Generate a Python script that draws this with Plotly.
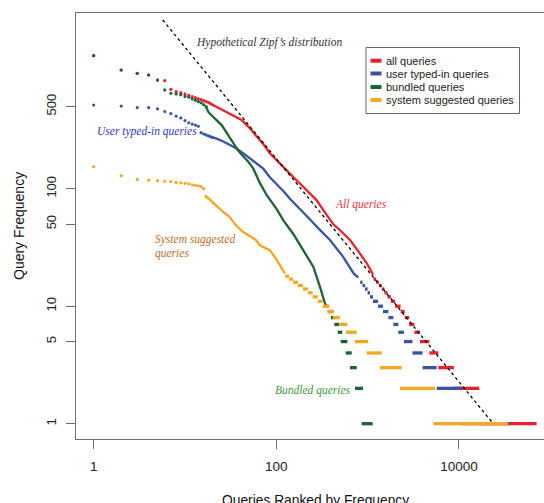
import plotly.graph_objects as go

# ---------------- data ----------------
# individual dots for top ranks (rank = 1..n)
all_head = [1355, 1024, 960, 928, 841, 830, 700, 669, 656, 640, 622, 607, 595, 583, 572, 561, 552, 543, 530, 518]
user_head = [515, 505, 490, 490, 478, 454, 436, 415, 400, 380, 364, 355, 348, 340, 300, 292, 287, 282, 277, 273]
bund_head = [1355, 1024, 960, 928, 841, 693, 649, 640, 631, 610, 600, 580, 565, 550, 538, 520, 500]
sys_head = [154, 129, 120, 118, 117, 116, 115, 113, 112, 111, 110, 108, 107, 106, 104, 100, 86, 83, 80, 77]

# dense middle part (rank, frequency)
all_mid_rank = [20, 22, 25, 28.6, 32.5, 36.7, 41.7, 47.4, 51.5, 61, 72, 85, 100, 119, 140, 167, 200, 233, 276, 326,
                371, 420, 520, 642, 800, 980, 1150]
all_mid_freq = [518, 499, 474, 452, 430, 410, 384, 348, 327, 278, 240, 200, 175, 154, 135, 118, 103, 91.5, 80, 66,
                57, 50, 43, 36.6, 29, 23.2, 18.5]
user_mid_rank = [20, 22.2, 26.3, 31, 36.7, 43.6, 51.5, 60, 72, 85, 100, 120, 141, 180, 233, 289, 387, 540, 700, 790]
user_mid_freq = [273, 267, 252, 235, 220, 200, 181, 168, 148, 125, 110, 95, 82, 68, 55, 46, 36.6, 26.3, 19.1, 17.5]
bund_mid_rank = [17, 18, 19, 22.2, 25.2, 27.4, 29.8, 32.5, 35.2, 38.4, 43.6, 49.3, 56, 66, 78.6, 92.6, 101, 119, 141,
                 154, 197, 254, 301, 342, 360]
bund_mid_freq = [500, 450, 430, 384, 348, 315, 285, 261, 235, 210, 188, 170, 148, 112, 88, 74, 67, 54, 45, 41, 30,
                 21.7, 14.6, 10.5, 10]
sys_mid_rank = [20, 22.7, 25.8, 30.5, 36, 43, 50.6, 60, 66, 85, 101, 119, 124]
sys_mid_freq = [77, 70, 64, 58, 49, 43, 40, 36.6, 33, 30, 24.8, 20.3, 19]

# low-frequency tail: each frequency spans a run of ranks
all_step_freq = [17, 16, 15, 14, 13, 12, 11, 10, 9, 8, 7, 6, 5, 4, 3, 2, 1]
all_step_start = [1160, 1240, 1330, 1430, 1530, 1650, 1800, 2000, 2300, 2550, 2850, 3250, 3750, 4750, 5950, 8830, 16730]
all_step_end = [1240, 1330, 1430, 1530, 1650, 1800, 2000, 2300, 2550, 2850, 3250, 3750, 4750, 5950, 8830, 16730, 71000]
user_step_freq = [16, 15, 14, 13, 12, 11, 10, 9, 8, 7, 6, 5, 4, 3, 2, 1]
user_step_start = [830, 880, 937, 1000, 1062, 1146, 1300, 1474, 1690, 1913, 2170, 2500, 3100, 4000, 5700, 10730]
user_step_end = [880, 937, 1000, 1062, 1146, 1300, 1474, 1690, 1913, 2170, 2500, 3100, 4000, 5700, 10730, 36000]
bund_step_freq = [9, 8, 7, 6, 5, 4, 3, 2, 1]
bund_step_start = [368, 397, 432, 470, 507, 575, 641, 728, 861]
bund_step_end = [408, 440, 486, 528, 600, 670, 760, 890, 1137]
sys_step_freq = [18, 17, 16, 15, 14, 13, 12, 11, 10, 9, 8, 7, 6, 5, 4, 3, 2, 1]
sys_step_start = [125, 138, 153, 172, 196, 222, 250, 285, 322, 362, 415, 490, 580, 728, 977, 1367, 2263, 5244]
sys_step_end = [138, 153, 172, 196, 222, 250, 285, 322, 381, 429, 499, 600, 760, 1018, 1427, 2362, 5475, 34720]

zipf_rank = [5.7, 23800]
zipf_freq = [2730, 1.0]

series_names = ["all queries", "user typed-in queries", "bundled queries", "system suggested queries"]
series_colors = ["#e8232b", "#3a53a4", "#1b6535", "#f5a623"]

x_tickvals = [1, 100, 10000]
x_ticktext = ["1", "100", "10000"]
y_tickvals = [1, 5, 10, 50, 100, 500]
y_ticktext = ["1", "5", "10", "50", "100", "500"]

# ---------------- layout geometry ----------------
W, H = 544, 503
L, R, T, B = 76, 544, 13, 439


def px(x):
    return (x - L) / (R - L)


def py(y):
    return (B - y) / (B - T)


fig = go.Figure()

groups = [
    (all_head, all_mid_rank, all_mid_freq, all_step_freq, all_step_start, all_step_end),
    (user_head, user_mid_rank, user_mid_freq, user_step_freq, user_step_start, user_step_end),
    (bund_head, bund_mid_rank, bund_mid_freq, bund_step_freq, bund_step_start, bund_step_end),
    (sys_head, sys_mid_rank, sys_mid_freq, sys_step_freq, sys_step_start, sys_step_end),
]

for (head, mr, mf, sf, ss, se), name, col in zip(groups, series_names, series_colors):
    sx, sy = [], []
    for f, a, b in zip(sf, ss, se):
        sx += [a, b, None]
        sy += [f, f, None]
    fig.add_trace(go.Scatter(x=sx, y=sy, mode="lines", line=dict(color=col, width=3.3),
                             name=name, showlegend=False, hoverinfo="skip"))
    fig.add_trace(go.Scatter(x=mr, y=mf, mode="lines", line=dict(color=col, width=2.3),
                             name=name, showlegend=False))
    fig.add_trace(go.Scatter(x=list(range(1, len(head) + 1)), y=head, mode="markers",
                             marker=dict(color=col, size=3.2, line=dict(width=0)),
                             name=name, showlegend=False))

fig.add_trace(go.Scatter(x=zipf_rank, y=zipf_freq, mode="lines",
                         line=dict(color="black", width=1.3, dash="3px,3px"),
                         showlegend=False, hoverinfo="skip"))

serif = "Liberation Serif, Times New Roman, serif"
sans = "Liberation Sans, Arial, Helvetica, sans-serif"

annots = [
    ("<i>Hypothetical Zipf’s distribution</i>", 194, 42.5, "#333333"),
    ("<i>User typed-in queries</i>", 95, 131, "#3434c4"),
    ("<i>System suggested</i>", 153, 239.5, "#c06a2c"),
    ("<i>queries</i>", 153, 253, "#c06a2c"),
    ("<i>All queries</i>", 333, 204, "#f0323e"),
    ("<i>Bundled queries</i>", 272.5, 390, "#3c9a34"),
]
annotations = []
for txt, x, y, c in annots:
    annotations.append(dict(text=txt, x=px(x), y=py(y), xref="paper", yref="paper",
                            xanchor="left", yanchor="middle", showarrow=False,
                            font=dict(family=serif, size=11.5, color=c)))

# axis titles
annotations.append(dict(text="Query Frequency", x=px(19), y=py(226), xref="paper", yref="paper",
                        textangle=-90, showarrow=False, xanchor="center", yanchor="middle",
                        font=dict(family=sans, size=14, color="#111")))
annotations.append(dict(text="Queries Ranked by Frequency", x=px(315), y=py(500), xref="paper", yref="paper",
                        showarrow=False, xanchor="center", yanchor="middle",
                        font=dict(family=sans, size=13.8, color="#111")))

# manual legend
shapes = [dict(type="rect", xref="paper", yref="paper", x0=px(366), x1=px(519.5), y0=py(47.5), y1=py(113.5),
               line=dict(color="#666", width=1), fillcolor="white", layer="above")]
leg_y = [60.7, 73.5, 87, 100]
for name, col, yy in zip(series_names, series_colors, leg_y):
    shapes.append(dict(type="line", xref="paper", yref="paper", x0=px(370.5), x1=px(381.5), y0=py(yy), y1=py(yy),
                       line=dict(color=col, width=4), layer="above"))
    annotations.append(dict(text=name, x=px(384), y=py(yy), xref="paper", yref="paper", xanchor="left",
                            yanchor="middle", showarrow=False, font=dict(family=sans, size=11, color="#222")))

axis_common = dict(type="log", showgrid=False, zeroline=False, showline=True, linecolor="#6e6e6e", linewidth=1,
                   ticks="outside", ticklen=9, tickcolor="#6e6e6e", tickwidth=1)

fig.update_layout(
    width=W, height=H,
    margin=dict(l=L, r=W - R, t=T, b=H - B, pad=0),
    paper_bgcolor="white", plot_bgcolor="white",
    showlegend=False,
    xaxis=dict(axis_common, range=[(L - 93.7) / 91.3, (R - 93.7) / 91.3], mirror=True,
               tickvals=x_tickvals, ticktext=x_ticktext, ticklabelstandoff=6,
               tickfont=dict(family=sans, size=13.5, color="#222")),
    yaxis=dict(axis_common, range=[(423.7 - B) / 117.5, (423.7 - T) / 117.5],
               tickvals=y_tickvals, ticktext=y_ticktext, tickangle=-90, ticklabelstandoff=5,
               tickfont=dict(family=sans, size=13, color="#222")),
    annotations=annotations,
    shapes=shapes,
)

fig.write_html("out.html")
